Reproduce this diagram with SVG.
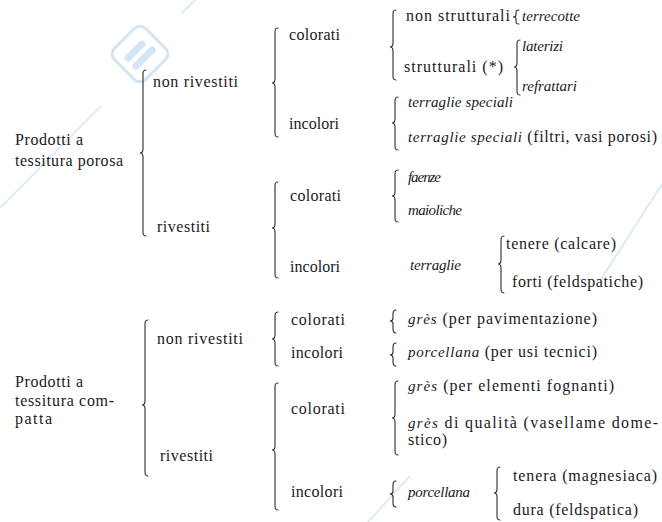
<svg xmlns="http://www.w3.org/2000/svg" width="662" height="522" viewBox="0 0 662 522">
<style>
text{font-family:"Liberation Serif","DejaVu Serif",serif;fill:#1a1a1a;}
.t{font-size:16px;}
.i{font-size:15px;font-style:italic;}
.it{font-style:italic;font-size:15px;}
.b{fill:none;stroke:#2a2a2a;stroke-width:1.1;stroke-linecap:round;}
.w{fill:none;stroke:#d3e5f5;stroke-width:1.5;}
</style>
<rect width="662" height="522" fill="#ffffff"/>
<g id="watermark">
<path class="w" d="M0,208 L101,106 M181,14 L195,0 M662,184 L600,281 M410,476 L368,522"/>
<rect x="118" y="32" width="44" height="44" rx="8" transform="rotate(45 140 54)" fill="none" stroke="#d3e5f5" stroke-width="3"/>
<path d="M128,58 L142,44 M136,66 L152,50" stroke="#d3e5f5" stroke-width="7" stroke-linecap="round" fill="none"/>
</g>
<g id="connectors">
<path class="b" d="M146,70 C143,70 143,72 143,75 L143,149 C143,152 142,153 140,153 C142,153 143,154 143,157 L143,231 C143,234 143,236 146,236"/>
<path class="b" d="M278,28 C275,28 275,30 275,33 L275,79 C275,82 274,83 272,83 C274,83 275,84 275,87 L275,132 C275,135 275,137 278,137"/>
<path class="b" d="M396,10 C393,10 393,12 393,15 L393,43 C393,46 392,47 390,47 C392,47 393,48 393,51 L393,75 C393,78 393,80 396,80"/>
<path class="b" d="M519,10 C516,10 516,11 516,13 L516,15 C516,16 515,17 513,17 C515,17 516,18 516,19 L516,21 C516,23 516,24 519,24"/>
<path class="b" d="M520,40 C517,40 517,42 517,45 L517,63 C517,66 516,67 514,67 C516,67 517,68 517,71 L517,90 C517,93 517,95 520,95"/>
<path class="b" d="M398,97 C395,97 395,99 395,102 L395,119 C395,122 394,123 392,123 C394,123 395,124 395,127 L395,145 C395,148 395,150 398,150"/>
<path class="b" d="M278,182 C275,182 275,184 275,187 L275,224 C275,227 274,228 272,228 C274,228 275,229 275,232 L275,273 C275,276 275,278 278,278"/>
<path class="b" d="M398,170 C395,170 395,172 395,175 L395,192 C395,195 394,196 392,196 C394,196 395,197 395,200 L395,217 C395,220 395,222 398,222"/>
<path class="b" d="M504,236 C501,236 501,238 501,241 L501,260 C501,263 500,264 498,264 C500,264 501,265 501,268 L501,288 C501,291 501,293 504,293"/>
<path class="b" d="M148,320 C145,320 145,322 145,325 L145,401 C145,404 144,405 142,405 C144,405 145,406 145,409 L145,471 C145,474 145,476 148,476"/>
<path class="b" d="M278,312 C275,312 275,314 275,317 L275,335 C275,338 274,339 272,339 C274,339 275,340 275,343 L275,361 C275,364 275,366 278,366"/>
<path class="b" d="M396,310 C393,310 393,312 393,314 L393,318 C393,320 392,321 390,321 C392,321 393,322 393,324 L393,329 C393,331 393,333 396,333"/>
<path class="b" d="M396,343 C393,343 393,345 393,347 L393,352 C393,354 392,355 390,355 C392,355 393,356 393,358 L393,362 C393,364 393,366 396,366"/>
<path class="b" d="M278,383 C275,383 275,385 275,388 L275,446 C275,449 274,450 272,450 C274,450 275,451 275,454 L275,505 C275,508 275,510 278,510"/>
<path class="b" d="M398,381 C395,381 395,383 395,386 L395,414 C395,417 394,418 392,418 C394,418 395,419 395,422 L395,450 C395,453 395,455 398,455"/>
<path class="b" d="M396,481 C393,481 393,483 393,485 L393,491 C393,493 392,494 390,494 C392,494 393,495 393,497 L393,503 C393,505 393,507 396,507"/>
<path class="b" d="M500,467 C497,467 497,469 497,472 L497,489 C497,492 496,493 494,493 C496,493 497,494 497,497 L497,515 C497,518 497,520 500,520"/>
</g>
<g id="porosa">
<text class="t" x="15" y="145" textLength="68" lengthAdjust="spacing">Prodotti  a</text>
<text class="t" x="15" y="166" textLength="108" lengthAdjust="spacing">tessitura porosa</text>
</g>
<g id="porosa-non-rivestiti"><text class="t" x="153" y="87" textLength="85" lengthAdjust="spacing">non rivestiti</text></g>
<g id="porosa-rivestiti"><text class="t" x="157" y="232" textLength="53" lengthAdjust="spacing">rivestiti</text></g>
<g id="p-nr-colorati"><text class="t" x="289" y="40" textLength="51" lengthAdjust="spacing">colorati</text></g>
<g id="p-nr-incolori"><text class="t" x="289" y="129" textLength="50" lengthAdjust="spacing">incolori</text></g>
<g id="non-strutturali"><text class="t" x="406" y="21" textLength="104" lengthAdjust="spacing">non strutturali</text></g>
<g id="terrecotte"><text class="i" x="522" y="21" textLength="58" lengthAdjust="spacing">terrecotte</text></g>
<g id="strutturali"><text class="t" x="404" y="72" textLength="99" lengthAdjust="spacing">strutturali (*)</text></g>
<g id="laterizi"><text class="i" x="522" y="51" textLength="41" lengthAdjust="spacing">laterizi</text></g>
<g id="refrattari"><text class="i" x="522" y="91" textLength="55" lengthAdjust="spacing">refrattari</text></g>
<g id="terraglie-speciali-1"><text class="i" x="408" y="107" textLength="105" lengthAdjust="spacing">terraglie speciali</text></g>
<g id="terraglie-speciali-2"><text class="t" x="408" y="142" textLength="249" lengthAdjust="spacing"><tspan class="it">terraglie speciali</tspan> (filtri, vasi porosi)</text></g>
<g id="p-r-colorati"><text class="t" x="290" y="201" textLength="51" lengthAdjust="spacing">colorati</text></g>
<g id="faenze"><text class="i" x="408" y="182" textLength="33" lengthAdjust="spacing">faenze</text></g>
<g id="maioliche"><text class="i" x="408" y="215" textLength="54" lengthAdjust="spacing">maioliche</text></g>
<g id="p-r-incolori"><text class="t" x="290" y="272" textLength="50" lengthAdjust="spacing">incolori</text></g>
<g id="terraglie"><text class="i" x="410" y="270" textLength="51" lengthAdjust="spacing">terraglie</text></g>
<g id="tenere"><text class="t" x="506" y="249" textLength="110" lengthAdjust="spacing">tenere (calcare)</text></g>
<g id="forti"><text class="t" x="512" y="287" textLength="131" lengthAdjust="spacing">forti (feldspatiche)</text></g>
<g id="compatta">
<text class="t" x="15" y="387" textLength="68" lengthAdjust="spacing">Prodotti  a</text>
<text class="t" x="15" y="406" textLength="99" lengthAdjust="spacing">tessitura  com-</text>
<text class="t" x="15" y="424" textLength="37" lengthAdjust="spacing">patta</text>
</g>
<g id="compatta-non-rivestiti"><text class="t" x="157" y="344" textLength="86" lengthAdjust="spacing">non rivestiti</text></g>
<g id="compatta-rivestiti"><text class="t" x="160" y="461" textLength="53" lengthAdjust="spacing">rivestiti</text></g>
<g id="c-nr-colorati"><text class="t" x="291" y="325" textLength="54" lengthAdjust="spacing">colorati</text></g>
<g id="c-nr-incolori"><text class="t" x="291" y="358" textLength="52" lengthAdjust="spacing">incolori</text></g>
<g id="gres-pav"><text class="t" x="408" y="324" textLength="189" lengthAdjust="spacing"><tspan class="it">grès</tspan> (per pavimentazione)</text></g>
<g id="porcellana-tecnici"><text class="t" x="408" y="357" textLength="189" lengthAdjust="spacing"><tspan class="it">porcellana</tspan> (per usi tecnici)</text></g>
<g id="c-r-colorati"><text class="t" x="291" y="414" textLength="54" lengthAdjust="spacing">colorati</text></g>
<g id="gres-fognanti"><text class="t" x="408" y="391" textLength="206" lengthAdjust="spacing"><tspan class="it">grès</tspan> (per elementi fognanti)</text></g>
<g id="gres-qualita">
<text class="t" x="408" y="428" textLength="250" lengthAdjust="spacing"><tspan class="it">grès</tspan> di qualità (vasellame dome-</text>
<text class="t" x="408" y="445" textLength="39" lengthAdjust="spacing">stico)</text>
</g>
<g id="c-r-incolori"><text class="t" x="291" y="497" textLength="52" lengthAdjust="spacing">incolori</text></g>
<g id="porcellana"><text class="i" x="408" y="497" textLength="62" lengthAdjust="spacing">porcellana</text></g>
<g id="tenera"><text class="t" x="513" y="481" textLength="144" lengthAdjust="spacing">tenera (magnesiaca)</text></g>
<g id="dura"><text class="t" x="513" y="515" textLength="125" lengthAdjust="spacing">dura (feldspatica)</text></g>
</svg>
